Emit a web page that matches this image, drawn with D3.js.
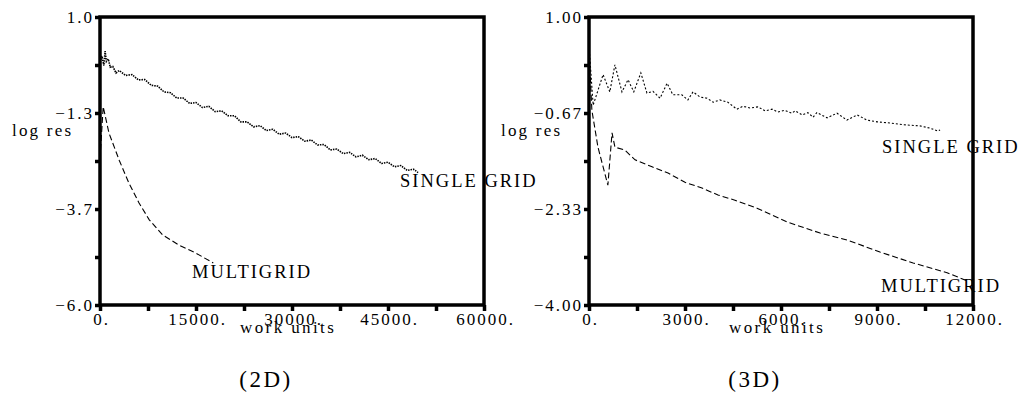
<!DOCTYPE html>
<html>
<head>
<meta charset="utf-8">
<script src="https://cdn.jsdelivr.net/npm/d3@7"></script>
<style>
body{margin:0;background:#fff}
svg text{font-family:"Liberation Serif",serif;fill:#000}
</style>
</head>
<body>
<div id="graph"></div>
<script>
var width = 1026, height = 403

// (2D) — work units vs log residual
var single2 = [[0,-0.10],[300,0.05],[600,-0.18],[800,0.17],[1000,-0.08],[1300,-0.02],[1600,-0.22],[2000,-0.20],
  [2500,-0.36],[3000,-0.30],[4000,-0.42],[5000,-0.40],[6000,-0.53],[7000,-0.52],[8000,-0.66],[9000,-0.68],
  [10000,-0.82],[11000,-0.84],[12000,-0.97],[13000,-0.97],[14000,-1.10],[15000,-1.08],[16000,-1.20],[17000,-1.17],
  [18000,-1.30],[19000,-1.28],[20000,-1.40],[21000,-1.40],[22000,-1.55],[23000,-1.55],[24000,-1.67],[25000,-1.64],
  [26000,-1.76],[27000,-1.73],[28000,-1.85],[29000,-1.82],[30000,-1.93],[31000,-1.91],[32000,-2.02],[33000,-1.99],
  [34000,-2.11],[35000,-2.10],[36000,-2.23],[37000,-2.21],[38000,-2.32],[39000,-2.29],[40000,-2.40],[41000,-2.36],
  [42000,-2.47],[43000,-2.44],[44000,-2.56],[45000,-2.53],[46000,-2.64],[47000,-2.61],[48000,-2.73],[49000,-2.70],
  [49700,-2.78]]
var multi2 = [[0,-2.45],[500,-1.18],[1400,-1.82],[3000,-2.48],[4500,-3.03],[6100,-3.52],[7700,-3.93],
  [9800,-4.30],[12300,-4.54],[15000,-4.74],[17700,-4.98]]
var xTicks2 = [0, 15000, 30000, 45000, 60000]
var xLabels2 = ['0.', '15000.', '30000.', '45000.', '60000.']
var yTicks2 = [1, -1.333, -3.667, -6]
var yLabels2 = ['1.0', '\u22121.3', '\u22123.7', '\u22126.0']

// (3D)
var single3 = [[0,0.50],[130,-0.53],[440,0.0],[650,-0.30],[810,0.17],[1030,-0.30],[1220,-0.09],[1400,-0.30],
  [1620,0.03],[1810,-0.32],[2000,-0.29],[2220,-0.41],[2440,-0.15],[2620,-0.35],[2900,-0.35],[3090,-0.44],
  [3250,-0.30],[3470,-0.39],[3690,-0.41],[3880,-0.48],[4090,-0.44],[4340,-0.48],[4620,-0.60],[4810,-0.55],
  [5030,-0.58],[5280,-0.56],[5500,-0.63],[5720,-0.60],[5900,-0.65],[6120,-0.62],[6340,-0.67],[6440,-0.63],
  [6660,-0.70],[6840,-0.66],[7000,-0.74],[7120,-0.66],[7440,-0.75],[7750,-0.67],[8060,-0.79],[8380,-0.70],
  [8690,-0.79],[9000,-0.82],[9400,-0.84],[9810,-0.87],[10340,-0.89],[10660,-0.93],[10900,-0.98],[10970,-0.96]]
var multi3 = [[0,0.43],[90,-0.62],[280,-1.26],[590,-1.92],[720,-1.01],[810,-1.26],[1120,-1.31],[1440,-1.48],
  [1970,-1.60],[2470,-1.71],[3000,-1.87],[3530,-1.97],[4030,-2.09],[4560,-2.18],[5250,-2.32],[6190,-2.56],
  [7220,-2.75],[8060,-2.87],[9090,-3.08],[10130,-3.27],[11190,-3.44],[11810,-3.58]]
var xTicks3 = [0, 3000, 6000, 9000, 12000]
var xLabels3 = ['0.', '3000.', '6000.', '9000.', '12000.']
var yTicks3 = [1, -0.667, -2.333, -4]
var yLabels3 = ['1.00', '\u22120.67', '\u22122.33', '\u22124.00']

var svg = d3.select('#graph').append('svg')
    .attr('width', width).attr('height', height)

var pw = 384, plotTop = 17, plotBottom = 305

function panel(o){
  var g = svg.append('g')
  var x = d3.scaleLinear().domain([0, o.xTicks[o.xTicks.length - 1]]).range([o.left, o.left + pw])
  var y = d3.scaleLinear().domain([o.yTicks[o.yTicks.length - 1], o.yTicks[0]]).range([plotBottom, plotTop])

  // every labelled tick plus one unlabelled tick half-way between
  var yAll = o.yTicks.concat(d3.pairs(o.yTicks).map(p => (p[0] + p[1]) / 2))
  var xAll = o.xTicks.concat(d3.pairs(o.xTicks).map(p => (p[0] + p[1]) / 2))

  var line = d3.line().x(d => x(d[0])).y(d => y(d[1]))

  g.append('path').datum(o.single)
    .attr('d', line).attr('fill', 'none').attr('stroke', '#000')
    .attr('stroke-width', o.sgWidth).attr('stroke-dasharray', o.sgDash)
  g.append('path').datum(o.multi)
    .attr('d', line).attr('fill', 'none').attr('stroke', '#000')
    .attr('stroke-width', 1.1).attr('stroke-dasharray', '6,3')

  var yAxis = g.append('g').attr('transform', 'translate(' + o.left + ',0)')
    .call(d3.axisLeft(y).tickValues(yAll).tickSize(5).tickPadding(1)
      .tickFormat(d => { var i = o.yTicks.indexOf(d); return i < 0 ? '' : o.yLabels[i] }))
  var xAxis = g.append('g').attr('transform', 'translate(0,' + plotBottom + ')')
    .call(d3.axisBottom(x).tickValues(xAll).tickSize(6).tickPadding(2)
      .tickFormat(d => { var i = o.xTicks.indexOf(d); return i < 0 ? '' : o.xLabels[i] }))

  ;[yAxis, xAxis].forEach(function(a){
    a.select('.domain').remove()
    a.selectAll('line').attr('stroke', '#000').attr('stroke-width', 3.5)
    a.selectAll('text').attr('font-family', '"Liberation Serif",serif')
      .attr('font-size', 17).style('letter-spacing', '2px').attr('fill', '#000')
  })
  xAxis.selectAll('text').attr('dx', 1)

  g.append('rect')
    .attr('x', o.left).attr('y', plotTop).attr('width', pw).attr('height', plotBottom - plotTop)
    .attr('fill', 'none').attr('stroke', '#000').attr('stroke-width', 3.5)

  g.append('text').text('log res')
    .attr('x', o.left - 88).attr('y', 136)
    .attr('font-size', 17).style('letter-spacing', '2.2px')
  g.append('text').text('work units')
    .attr('x', o.left + 140).attr('y', 333)
    .attr('font-size', 17).style('letter-spacing', '2.4px')

  g.append('text').text('SINGLE GRID')
    .attr('x', o.left + o.sgLabel[0]).attr('y', o.sgLabel[1])
    .attr('font-size', 18.5).style('letter-spacing', '2px')
  g.append('text').text('MULTIGRID')
    .attr('x', o.left + o.mgLabel[0]).attr('y', o.mgLabel[1])
    .attr('font-size', 18.5).style('letter-spacing', '2px')

  g.append('text').text(o.caption)
    .attr('x', o.left + 166).attr('y', 387).attr('text-anchor', 'middle')
    .attr('font-size', 23).style('letter-spacing', '2.5px')
}

panel({left: 100, single: single2, multi: multi2, xTicks: xTicks2, xLabels: xLabels2,
  yTicks: yTicks2, yLabels: yLabels2, sgDash: '1.5,1', sgWidth: 1.6,
  sgLabel: [300, 187], mgLabel: [92, 278], caption: '(2D)'})

panel({left: 589, single: single3, multi: multi3, xTicks: xTicks3, xLabels: xLabels3,
  yTicks: yTicks3, yLabels: yLabels3, sgDash: '2,2', sgWidth: 1.1,
  sgLabel: [293, 153], mgLabel: [292, 292], caption: '(3D)'})
</script>
</body>
</html>
